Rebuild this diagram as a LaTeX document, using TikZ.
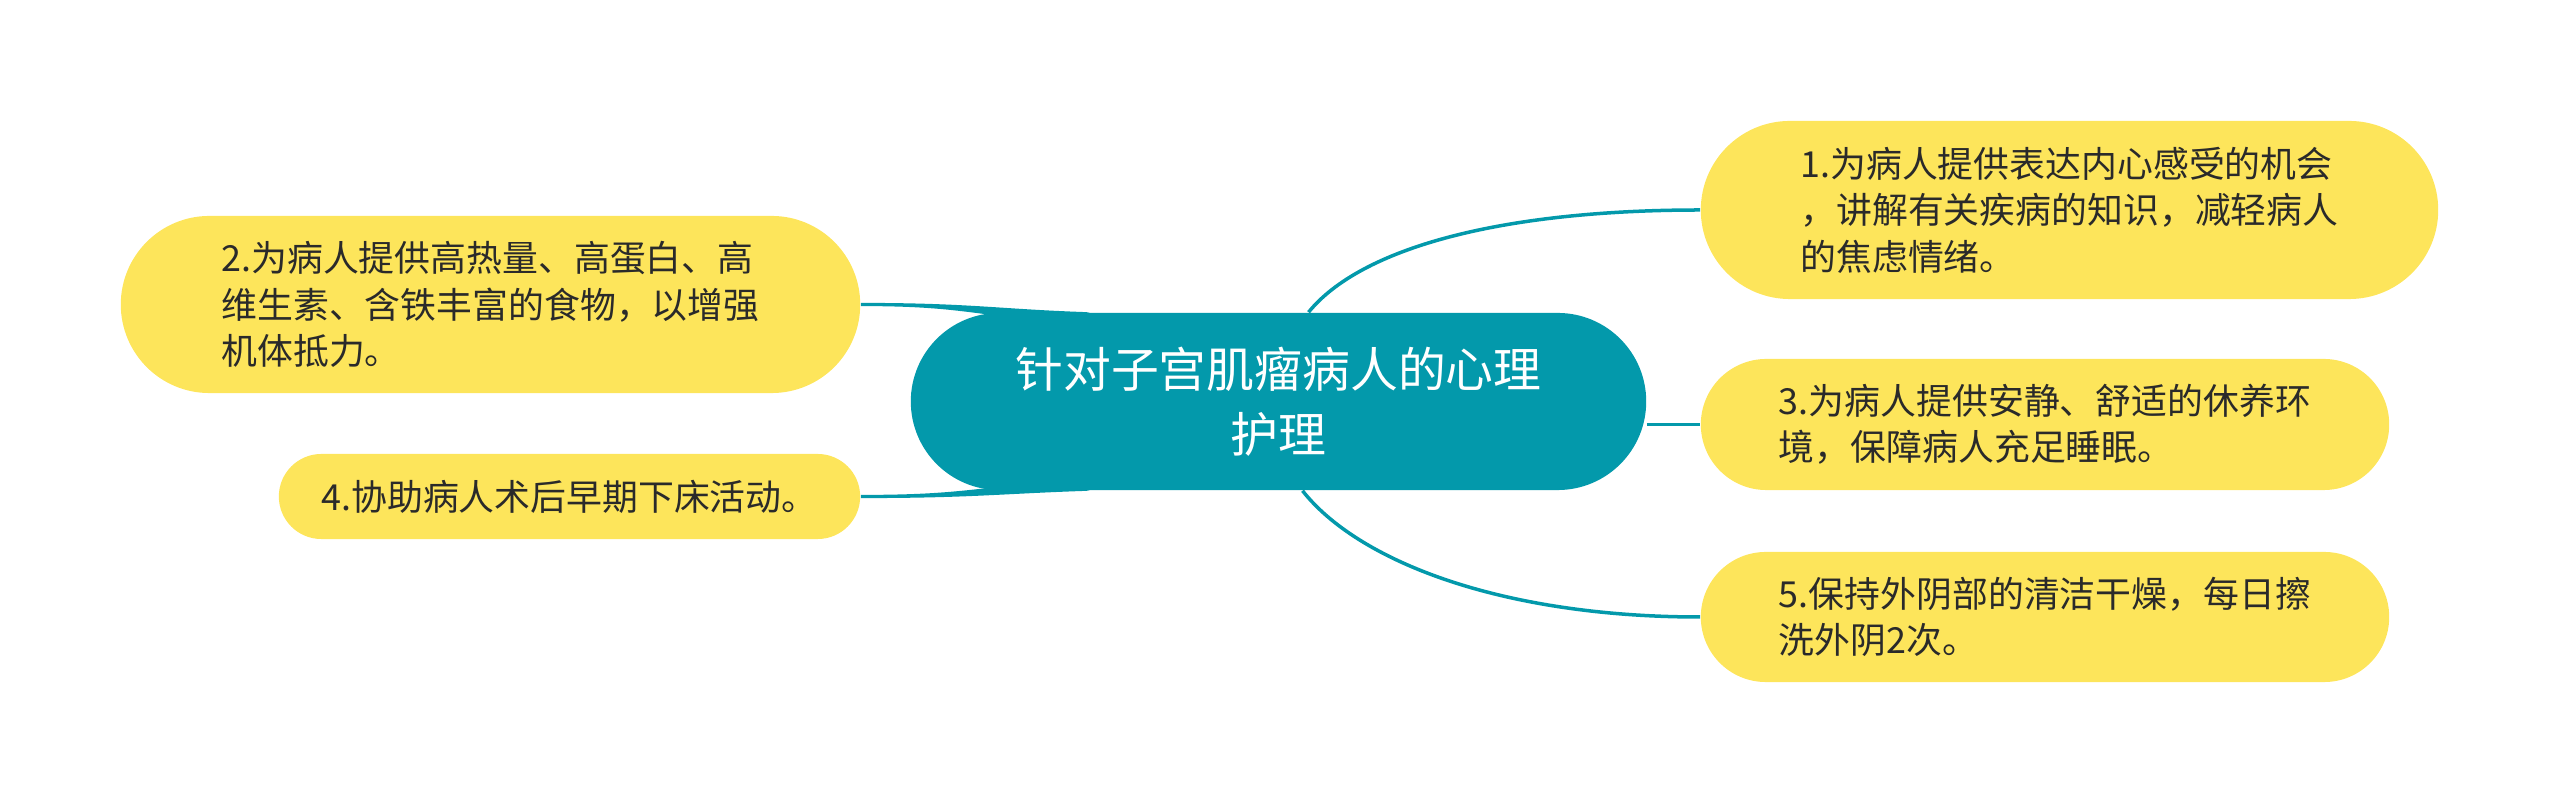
\documentclass[tikz,border=0pt]{standalone}
\usepackage{fontspec}
\setmainfont{Noto Sans CJK SC}
\usetikzlibrary{shapes.misc,backgrounds}
\definecolor{mapteal}{HTML}{0399AB}
\definecolor{mapyellow}{HTML}{FDE55B}
\definecolor{maptext}{HTML}{2A2A2A}
\tikzset{
  topic/.style={shape=rounded rectangle, fill=mapteal, text=white, align=center,
    font=\fontsize{13.6pt}{18.5pt}\selectfont, inner sep=0pt},
  leaf/.style={shape=rounded rectangle, fill=mapyellow, text=maptext, align=left,
    font=\fontsize{10.2pt}{13.2pt}\selectfont, inner sep=0pt},
  link/.style={draw=mapteal, line width=0.035cm},
}
\begin{document}
\begin{tikzpicture}[x=0.01cm,y=-0.01cm]
   \useasboundingbox (0,0) rectangle (2560,804);
   \node[topic, minimum width=7.35cm, minimum height=1.77cm] (main) at (1278.5,401.5) {针对子宫肌瘤病人的心理\\护理};
   \node[leaf, minimum width=7.37cm, minimum height=1.78cm] (care1) at (2069.5,210) {1.为病人提供表达内心感受的机会\\，讲解有关疾病的知识，减轻病人\\的焦虑情绪。};
   \node[leaf, minimum width=7.39cm, minimum height=1.77cm] (care2) at (490.5,304.5) {2.为病人提供高热量、高蛋白、高\\维生素、含铁丰富的食物，以增强\\机体抵力。};
   \node[leaf, minimum width=6.88cm, minimum height=1.31cm] (care3) at (2045,424.5) {3.为病人提供安静、舒适的休养环\\境，保障病人充足睡眠。};
   \node[leaf, minimum width=5.81cm, minimum height=0.85cm] (care4) at (569.5,496.5) {4.协助病人术后早期下床活动。};
   \node[leaf, minimum width=6.88cm, minimum height=1.30cm] (care5) at (2045,617) {5.保持外阴部的清洁干燥，每日擦\\洗外阴2次。};
   \begin{pgfonlayer}{background}
   \draw[link] ([xshift=3mm]main.north) .. controls +(52,-64) and +(-200,0) .. (care1.west);
   \draw[link] (main.east |- care3.west) -- (care3.west);
   \draw[link] ([xshift=2.4mm]main.south) .. controls +(55,70) and +(-200,0) .. (care5.west);
   \fill[mapteal] (care2.east) ++(0,-1.6) .. controls +(110,0) and +(-90,-3) .. ([xshift=0.9cm]main.north west)
      -- ++(-40,8) .. controls +(-80,-5) and +(100,0) .. ([yshift=-0.016cm]care2.east) -- cycle;
   \fill[mapteal] (care4.east) ++(0,1.6) .. controls +(110,0) and +(-90,3) .. ([xshift=0.9cm]main.south west)
      -- ++(-40,-8) .. controls +(-80,5) and +(100,0) .. ([yshift=0.016cm]care4.east) -- cycle;
   \end{pgfonlayer}
\end{tikzpicture}
\end{document}
